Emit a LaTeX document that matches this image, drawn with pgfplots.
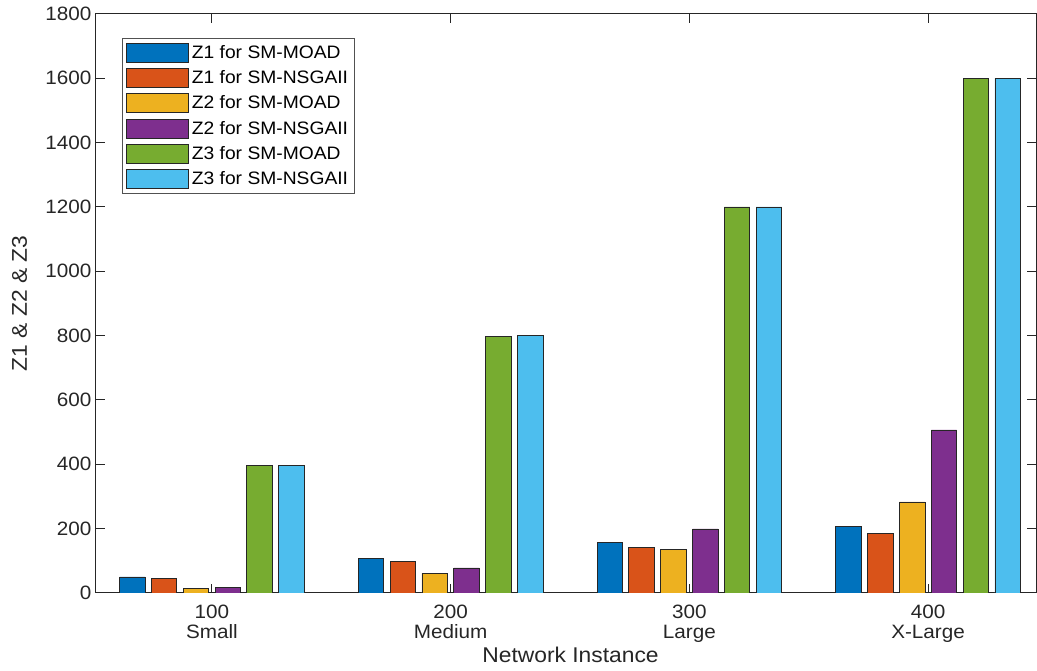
\documentclass[border=0pt]{standalone}
\usepackage{fontspec}
\setmainfont{Liberation Sans}[FakeStretch=1.07]
\usepackage{pgfplots}
\usepackage{pgfplotstable}
\pgfplotsset{compat=1.18}

% MATLAB default colour order
\definecolor{mblue}{RGB}{0,114,189}
\definecolor{morange}{RGB}{217,83,25}
\definecolor{myellow}{RGB}{237,177,32}
\definecolor{mpurple}{RGB}{126,47,142}
\definecolor{mgreen}{RGB}{119,172,48}
\definecolor{mcyan}{RGB}{77,190,238}
\definecolor{axgray}{RGB}{38,38,38}

% objective values per network size (1 = 100 nodes, ..., 4 = 400 nodes)
\pgfplotstableread{
x z1moad z1nsga z2moad z2nsga z3moad z3nsga
1  50   46   13   16   397   397
2  106  97   61   78   798   801
3  156  141  134  199  1200  1200
4  208  185  283  507  1600  1600
}\results

\pgfplotsset{
  mbar/.style={
    fill=#1, draw=black!85, line width=0.6pt,
    legend image code/.code={%
      \draw[fill=#1, draw=black!85, line width=0.6pt] (0pt,-7.1pt) rectangle (46.5pt,7.1pt);}
  }
}

\begin{document}
\begin{tikzpicture}
\begin{axis}[
  width=705pt, height=434.25pt, scale only axis,
  xmin=0.5146, xmax=4.452, ymin=0, ymax=1800,
  ybar, bar width=0.10667,
  xtick={1,2,3,4},
  xticklabels={100\\Small, 200\\Medium, 300\\Large, 400\\X-Large},
  ytick={0,200,...,1800},
  scaled y ticks=false,
  /pgf/number format/1000 sep={},
  /pgf/number format/assume math mode=true,
  tick align=inside,
  major tick length=7pt,
  axis line style={axgray, line width=0.75pt},
  every tick/.style={axgray, line width=0.75pt},
  tick label style={text=axgray, font=\fontsize{14.5}{17}\selectfont},
  x tick label style={align=center, font=\fontsize{14.5}{15.2pt}\selectfont, yshift=-5.5pt},
  xlabel={Network Instance},
  ylabel={Z1 \& Z2 \& Z3},
  label style={text=axgray, font=\fontsize{16}{18}\selectfont},
  xlabel style={at={(axis description cs:0.5048,-0.1209)}, anchor=base},
  ylabel style={at={(axis description cs:-0.0814,0.5)}, anchor=center},
  legend style={
    at={(axis description cs:0,1)}, anchor=north west,
    xshift=19.5pt, yshift=-18pt,
    draw=axgray!80, line width=0.6pt,
    inner xsep=3pt, inner ysep=3.5pt, row sep=4.1pt,
    font=\fontsize{13.5}{15}\selectfont,
    nodes={inner xsep=2pt, inner ysep=1pt},
  },
  legend cell align=left,
]
\addplot[mbar=mblue,   bar shift=-0.33333] table[x=x, y=z1moad] {\results};
\addplot[mbar=morange, bar shift=-0.2]     table[x=x, y=z1nsga] {\results};
\addplot[mbar=myellow, bar shift=-0.06667] table[x=x, y=z2moad] {\results};
\addplot[mbar=mpurple, bar shift=0.06667]  table[x=x, y=z2nsga] {\results};
\addplot[mbar=mgreen,  bar shift=0.2]      table[x=x, y=z3moad] {\results};
\addplot[mbar=mcyan,   bar shift=0.33333]  table[x=x, y=z3nsga] {\results};
\legend{Z1 for SM-MOAD, Z1 for SM-NSGAII, Z2 for SM-MOAD, Z2 for SM-NSGAII, Z3 for SM-MOAD, Z3 for SM-NSGAII}
\end{axis}
\pgfresetboundingbox
\path ([xshift=-72pt, yshift=-58.5pt]current axis.south west)
  rectangle ([xshift=0.75pt, yshift=10.5pt]current axis.north east);
\end{tikzpicture}
\end{document}
